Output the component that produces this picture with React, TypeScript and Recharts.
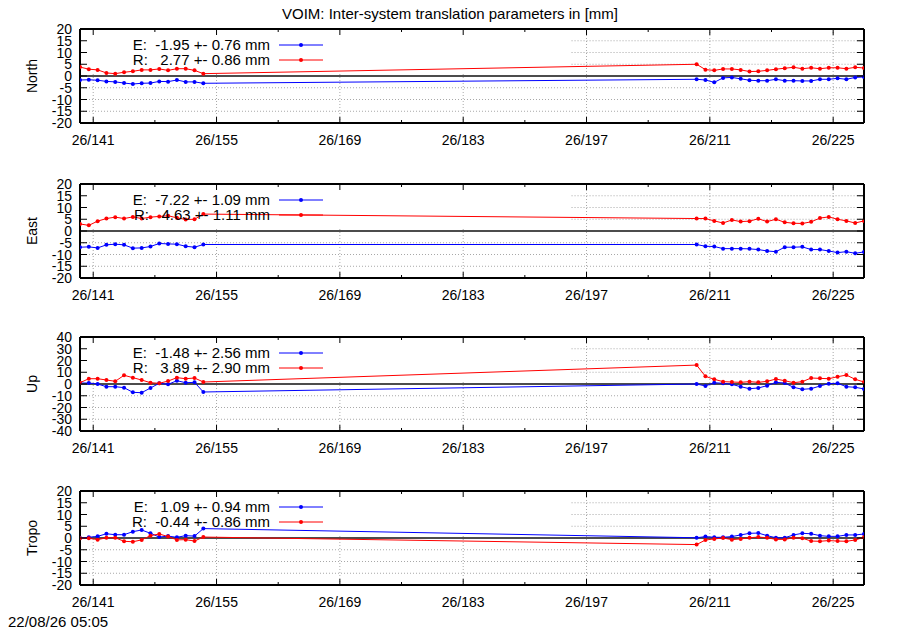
import React from 'react';
import { LineChart, Line, XAxis, YAxis, ReferenceLine } from 'recharts';

const FONT = '"Liberation Sans", Arial, Helvetica, sans-serif';

const days = [
  139.5, 140.5, 141.5, 142.5, 143.5, 144.5, 145.5, 146.5, 147.5, 148.5, 149.5, 150.5, 151.5, 152.5, 153.5,
  209.5, 210.5, 211.5, 212.5, 213.5, 214.5, 215.5, 216.5, 217.5, 218.5, 219.5, 220.5, 221.5, 222.5, 223.5,
  224.5, 225.5, 226.5, 227.5, 228.5,
];

const northE = [
  -1.7, -1.6, -1.8, -2.3, -2.5, -3.0, -3.4, -3.1, -3.0, -2.3, -2.4, -1.7, -2.5, -2.5, -3.1,
  -1.4, -1.7, -2.7, -0.8, -0.6, -1.2, -1.8, -2.0, -2.0, -1.4, -2.0, -2.0, -2.1, -2.1, -1.4, -1.4, -1.0, -1.4, -0.6, -0.4,
];
const northR = [
  3.8, 2.9, 2.6, 1.3, 1.0, 1.6, 2.0, 2.6, 2.6, 3.0, 2.4, 3.1, 3.1, 2.4, 1.0,
  5.0, 2.7, 2.4, 3.0, 3.0, 2.6, 1.9, 2.0, 2.4, 2.9, 3.3, 3.7, 3.1, 3.5, 3.1, 3.5, 3.5, 3.1, 3.7, 3.4,
];
const eastE = [
  -6.9, -6.75, -7.2, -5.9, -5.6, -5.9, -7.3, -7.2, -6.6, -5.3, -5.5, -5.6, -6.5, -6.9, -5.75,
  -5.75, -6.5, -6.6, -7.5, -7.5, -7.5, -7.6, -7.9, -8.5, -8.8, -6.9, -6.9, -6.75, -7.9, -7.9, -8.5, -9.2, -8.8, -9.5, -8.9,
];
const eastR = [
  3.0, 2.4, 4.2, 5.3, 5.9, 5.3, 6.0, 5.3, 5.9, 6.2, 6.5, 5.6, 4.9, 5.0, 7.2,
  5.3, 5.3, 4.3, 3.4, 4.7, 4.0, 4.2, 5.2, 4.0, 5.0, 3.7, 3.3, 3.2, 3.9, 5.5, 6.0, 5.0, 4.3, 3.4, 4.3,
];
const upE = [
  0.85, 0.85, 0, -2.3, -2.3, -3.1, -7.1, -7.4, -3.4, 0.6, -0.3, 2.8, 1.1, 1.4, -6.8,
  0, -1.7, 1.1, 0.6, -0.3, -2.3, -4.0, -3.4, -1.4, 1.4, 0.85, -2.8, -4.5, -4.0, -1.7, 0.3, 0.6, -2.3, -2.8, -4.2,
];
const upR = [
  1.1, 4.5, 4.5, 3.4, 2.3, 7.4, 5.4, 3.4, 1.1, 0.6, 2.5, 5.4, 4.5, 5.1, 1.7,
  16.1, 6.5, 4.0, 2.0, 1.7, 1.4, 2.0, 1.4, 2.3, 4.2, 2.8, 1.1, 2.0, 5.1, 4.8, 4.5, 6.2, 7.6, 4.0, 1.7,
];
const tropoE = [
  0, 0.3, 0.7, 1.8, 1.4, 1.4, 2.7, 3.4, 2.0, 0.4, 0.8, 0.3, 1.0, 0.8, 4.0,
  0.1, 0.6, 0.3, 0.3, 0.6, 1.3, 2.0, 2.1, 1.0, 0.1, 0.1, 1.3, 2.0, 1.8, 1.0, 0.7, 0.7, 1.3, 1.3, 1.7,
];
const tropoR = [
  -0.1, -0.1, -0.7, 0.1, 0.1, -1.4, -1.6, -0.8, 1.0, 1.7, 0.6, -0.8, -0.7, -1.3, 0.4,
  -2.8, -0.85, -0.4, 0, -0.7, -0.4, 0.1, 0.4, 0.1, -0.6, -0.6, 0.1, -0.1, -1.3, -1.4, -1.1, -1.3, -1.4, -0.85, 0.3,
];

const xDomain = [139.5, 228.5];
const xWeekTicks = [141, 148, 155, 162, 169, 176, 183, 190, 197, 204, 211, 218, 225];
const xMajorTicks = [141, 155, 169, 183, 197, 211, 225];
const xTickPrefix = '26/';
const y20Ticks = [-20, -15, -10, -5, 0, 5, 10, 15, 20];
const y40Ticks = [-40, -30, -20, -10, 0, 10, 20, 30, 40];

const panelNames = ['North', 'East', 'Up', 'Tropo'];
const legendE = ['E:  -1.95 +- 0.76 mm', 'E:  -7.22 +- 1.09 mm', 'E:  -1.48 +- 2.56 mm', 'E:   1.09 +- 0.94 mm'];
const legendR = ['R:   2.77 +- 0.86 mm', 'R:   4.63 +- 1.11 mm', 'R:   3.89 +- 2.90 mm', 'R:  -0.44 +- 0.86 mm'];
const title = 'VOIM: Inter-system translation parameters in [mm]';
const stamp = '22/08/26 05:05';

const rows = days.map((d, i) => ({
  day: d,
  northE: northE[i], northR: northR[i],
  eastE: eastE[i], eastR: eastR[i],
  upE: upE[i], upR: upR[i],
  tropoE: tropoE[i], tropoR: tropoR[i],
}));

const BLUE = '#0000ff';
const RED = '#ff0000';
const GRID = '#a8a8a8';

const panels = [
  { key: 'north', top: 29, ticks: y20Ticks, keyBottom: 1.7 },
  { key: 'east', top: 184, ticks: y20Ticks, keyBottom: 1.7 },
  { key: 'up', top: 337, ticks: y40Ticks, keyBottom: 3.4 },
  { key: 'tropo', top: 491, ticks: y20Ticks, keyBottom: 1.7 },
];
const keyRightDay = 195.3;

const isMajor = (v: number) => xMajorTicks.includes(v);

const BottomTick = (props: any) => {
  const { x, y, payload } = props;
  const v = payload.value;
  const len = isMajor(v) ? 6 : 3;
  return (
    <g>
      <line x1={x} x2={x} y1={y} y2={y - len} stroke="#000" strokeWidth={1} />
      {isMajor(v) && (
        <text x={x} y={y + 22} textAnchor="middle" fontSize={14} fontFamily={FONT} fill="#000">
          {xTickPrefix + v}
        </text>
      )}
    </g>
  );
};

const TopTick = (props: any) => {
  const { x, y, payload } = props;
  const len = isMajor(payload.value) ? 6 : 3;
  return <line x1={x} x2={x} y1={y} y2={y + len} stroke="#000" strokeWidth={1} />;
};

const LeftTick = (props: any) => {
  const { x, y, payload } = props;
  return (
    <g>
      <line x1={x} x2={x + 7} y1={y} y2={y} stroke="#000" strokeWidth={1} />
      <text x={x - 8} y={y + 5} textAnchor="end" fontSize={14} fontFamily={FONT} fill="#000">
        {String(payload.value)}
      </text>
    </g>
  );
};

const RightTick = (props: any) => {
  const { x, y } = props;
  return <line x1={x} x2={x - 7} y1={y} y2={y} stroke="#000" strokeWidth={1} />;
};

const frame = { stroke: '#000', strokeWidth: 2 };

function Panel({ p }: { p: (typeof panels)[number] }) {
  const yMin = p.ticks[0];
  const yMax = p.ticks[p.ticks.length - 1];
  const eKey = p.key + 'E';
  const rKey = p.key + 'R';
  const vLines = xMajorTicks.map((v) => (
    <ReferenceLine
      key={'v' + v}
      segment={[{ x: v, y: yMin }, { x: v, y: v < keyRightDay ? p.keyBottom : yMax }]}
      stroke={GRID}
      strokeDasharray="1 2"
      ifOverflow="hidden"
    />
  ));
  const hLines = p.ticks
    .filter((t) => t !== yMin && t !== yMax && t !== 0)
    .map((t) => (
      <ReferenceLine
        key={'h' + t}
        segment={[{ x: t > p.keyBottom ? keyRightDay : xDomain[0], y: t }, { x: xDomain[1], y: t }]}
        stroke={GRID}
        strokeDasharray="1 2"
        ifOverflow="hidden"
      />
    ));
  return (
    <div style={{ position: 'absolute', left: 0, top: p.top - 20, width: 900, height: 154 }}>
      <LineChart width={900} height={154} data={rows} margin={{ top: 19, right: 30, bottom: 10, left: 0 }}>
        <XAxis
          xAxisId={0}
          dataKey="day"
          type="number"
          domain={xDomain}
          allowDataOverflow
          ticks={xWeekTicks}
          interval={0}
          tickSize={0}
          tickMargin={0}
          height={30}
          axisLine={frame}
          tickLine={false}
          tick={BottomTick}
        />
        <XAxis
          xAxisId="t"
          orientation="top"
          dataKey="day"
          type="number"
          domain={xDomain}
          allowDataOverflow
          ticks={xWeekTicks}
          interval={0}
          tickSize={0}
          tickMargin={0}
          height={1}
          axisLine={frame}
          tickLine={false}
          tick={TopTick}
        />
        <YAxis
          yAxisId={0}
          type="number"
          domain={[yMin, yMax]}
          allowDataOverflow
          ticks={p.ticks}
          interval={0}
          tickSize={0}
          tickMargin={0}
          width={80}
          axisLine={frame}
          tickLine={false}
          tick={LeftTick}
        />
        <YAxis
          yAxisId="r"
          orientation="right"
          type="number"
          domain={[yMin, yMax]}
          allowDataOverflow
          ticks={p.ticks}
          interval={0}
          tickSize={0}
          tickMargin={0}
          width={6}
          axisLine={frame}
          tickLine={false}
          tick={RightTick}
        />
        {vLines}
        {hLines}
        <ReferenceLine y={0} stroke="#111" strokeWidth={1.5} />
        <Line
          xAxisId="t"
          yAxisId="r"
          dataKey={eKey}
          stroke="none"
          dot={false}
          activeDot={false}
          isAnimationActive={false}
        />
        <Line
          dataKey={eKey}
          type="linear"
          stroke={BLUE}
          strokeWidth={1}
          dot={{ r: 2, fill: BLUE, stroke: BLUE, strokeWidth: 0 }}
          activeDot={false}
          isAnimationActive={false}
        />
        <Line
          dataKey={rKey}
          type="linear"
          stroke={RED}
          strokeWidth={1}
          dot={{ r: 2, fill: RED, stroke: RED, strokeWidth: 0 }}
          activeDot={false}
          isAnimationActive={false}
        />
      </LineChart>
    </div>
  );
}

export default function App() {
  return (
    <div style={{ position: 'absolute', left: 0, top: 0, width: 900, height: 630, background: '#fff' }}>
      {panels.map((p) => (
        <Panel key={p.key} p={p} />
      ))}
      <svg
        width={900}
        height={630}
        style={{ position: 'absolute', left: 0, top: 0, pointerEvents: 'none' }}
        fontFamily={FONT}
      >
        <text x={450} y={19} textAnchor="middle" fontSize={15} fill="#000">
          {title}
        </text>
        {panels.map((p, i) => (
          <g key={p.key}>
            <text
              transform={`translate(37, ${p.top + 47}) rotate(-90)`}
              textAnchor="middle"
              fontSize={14}
              fill="#000"
            >
              {panelNames[i]}
            </text>
            <text x={270} y={p.top + 21} textAnchor="end" fontSize={15} fill="#000" style={{ whiteSpace: 'pre' }}>
              {legendE[i]}
            </text>
            <line x1={279} x2={323} y1={p.top + 16} y2={p.top + 16} stroke={BLUE} strokeWidth={1} />
            <circle cx={301} cy={p.top + 16} r={2} fill={BLUE} />
            <text x={270} y={p.top + 36} textAnchor="end" fontSize={15} fill="#000" style={{ whiteSpace: 'pre' }}>
              {legendR[i]}
            </text>
            <line x1={279} x2={323} y1={p.top + 31} y2={p.top + 31} stroke={RED} strokeWidth={1} />
            <circle cx={301} cy={p.top + 31} r={2} fill={RED} />
          </g>
        ))}
        <text x={8} y={627} fontSize={15} fill="#000">
          {stamp}
        </text>
      </svg>
    </div>
  );
}
